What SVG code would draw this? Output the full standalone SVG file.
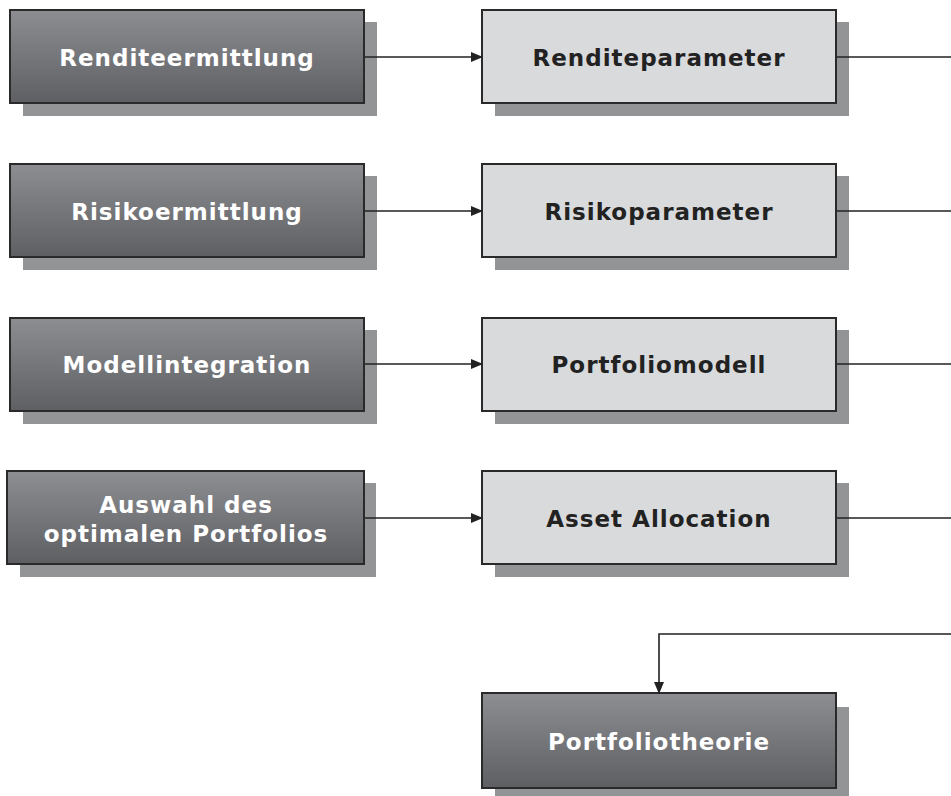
<svg xmlns="http://www.w3.org/2000/svg" width="951" height="796" viewBox="0 0 951 796">
<defs>
<linearGradient id="dg" x1="0" y1="0" x2="0" y2="1">
<stop offset="0" stop-color="#8d8e92"/>
<stop offset="1" stop-color="#5e5f63"/>
</linearGradient>
<marker id="ah" markerWidth="12" markerHeight="10" refX="11" refY="5" orient="auto" markerUnits="userSpaceOnUse">
<path d="M0,0 L12,5 L0,10 Z" fill="#222"/>
</marker>
<style>
.sh{fill:#939496}
.dk{fill:url(#dg);stroke:#2a2a2a;stroke-width:2}
.lt{fill:#d9dadc;stroke:#2a2a2a;stroke-width:2}
.tw{font-family:"DejaVu Sans",Verdana,sans-serif;font-weight:bold;font-size:23px;letter-spacing:1px;fill:#fff;text-anchor:middle}
.tb{font-family:"DejaVu Sans",Verdana,sans-serif;font-weight:bold;font-size:23px;letter-spacing:1px;fill:#222;text-anchor:middle}
.ln{fill:none;stroke:#222;stroke-width:1.6}
</style>
</defs>
<g id="renditeermittlung">
<rect class="sh" x="23" y="22" width="354" height="94"/>
<rect class="dk" x="10" y="10" width="354" height="93"/>
<text class="tw" x="187" y="66">Renditeermittlung</text>
</g>
<g id="renditeparameter">
<rect class="sh" x="495" y="22" width="354" height="94"/>
<rect class="lt" x="482" y="10" width="354" height="93"/>
<text class="tb" x="659" y="66">Renditeparameter</text>
</g>
<g id="risikoermittlung">
<rect class="sh" x="23" y="176" width="354" height="94"/>
<rect class="dk" x="10" y="164" width="354" height="93"/>
<text class="tw" x="187" y="220">Risikoermittlung</text>
</g>
<g id="risikoparameter">
<rect class="sh" x="495" y="176" width="354" height="94"/>
<rect class="lt" x="482" y="164" width="354" height="93"/>
<text class="tb" x="659" y="220">Risikoparameter</text>
</g>
<g id="modellintegration">
<rect class="sh" x="23" y="330" width="354" height="94"/>
<rect class="dk" x="10" y="318" width="354" height="93"/>
<text class="tw" x="187" y="373">Modellintegration</text>
</g>
<g id="portfoliomodell">
<rect class="sh" x="495" y="330" width="354" height="94"/>
<rect class="lt" x="482" y="318" width="354" height="93"/>
<text class="tb" x="659" y="373">Portfoliomodell</text>
</g>
<g id="auswahl">
<rect class="sh" x="20" y="483" width="356" height="94"/>
<rect class="dk" x="7" y="471" width="357" height="93"/>
<text class="tw" x="186" y="513">Auswahl des</text>
<text class="tw" x="186" y="542">optimalen Portfolios</text>
</g>
<g id="assetallocation">
<rect class="sh" x="495" y="483" width="354" height="94"/>
<rect class="lt" x="482" y="471" width="354" height="93"/>
<text class="tb" x="659" y="527">Asset Allocation</text>
</g>
<g id="portfoliotheorie">
<rect class="sh" x="495" y="707" width="354" height="89"/>
<rect class="dk" x="482" y="693" width="354" height="95"/>
<text class="tw" x="659" y="750">Portfoliotheorie</text>
</g>
<g id="connectors">
<line class="ln" x1="365" y1="57" x2="482" y2="57" marker-end="url(#ah)"/>
<line class="ln" x1="365" y1="211" x2="482" y2="211" marker-end="url(#ah)"/>
<line class="ln" x1="365" y1="364" x2="482" y2="364" marker-end="url(#ah)"/>
<line class="ln" x1="365" y1="518" x2="482" y2="518" marker-end="url(#ah)"/>
<line class="ln" x1="837" y1="57" x2="951" y2="57"/>
<line class="ln" x1="837" y1="211" x2="951" y2="211"/>
<line class="ln" x1="837" y1="364" x2="951" y2="364"/>
<line class="ln" x1="837" y1="518" x2="951" y2="518"/>
<polyline class="ln" points="951,634 659,634 659,693" marker-end="url(#ah)"/>
</g>
</svg>
